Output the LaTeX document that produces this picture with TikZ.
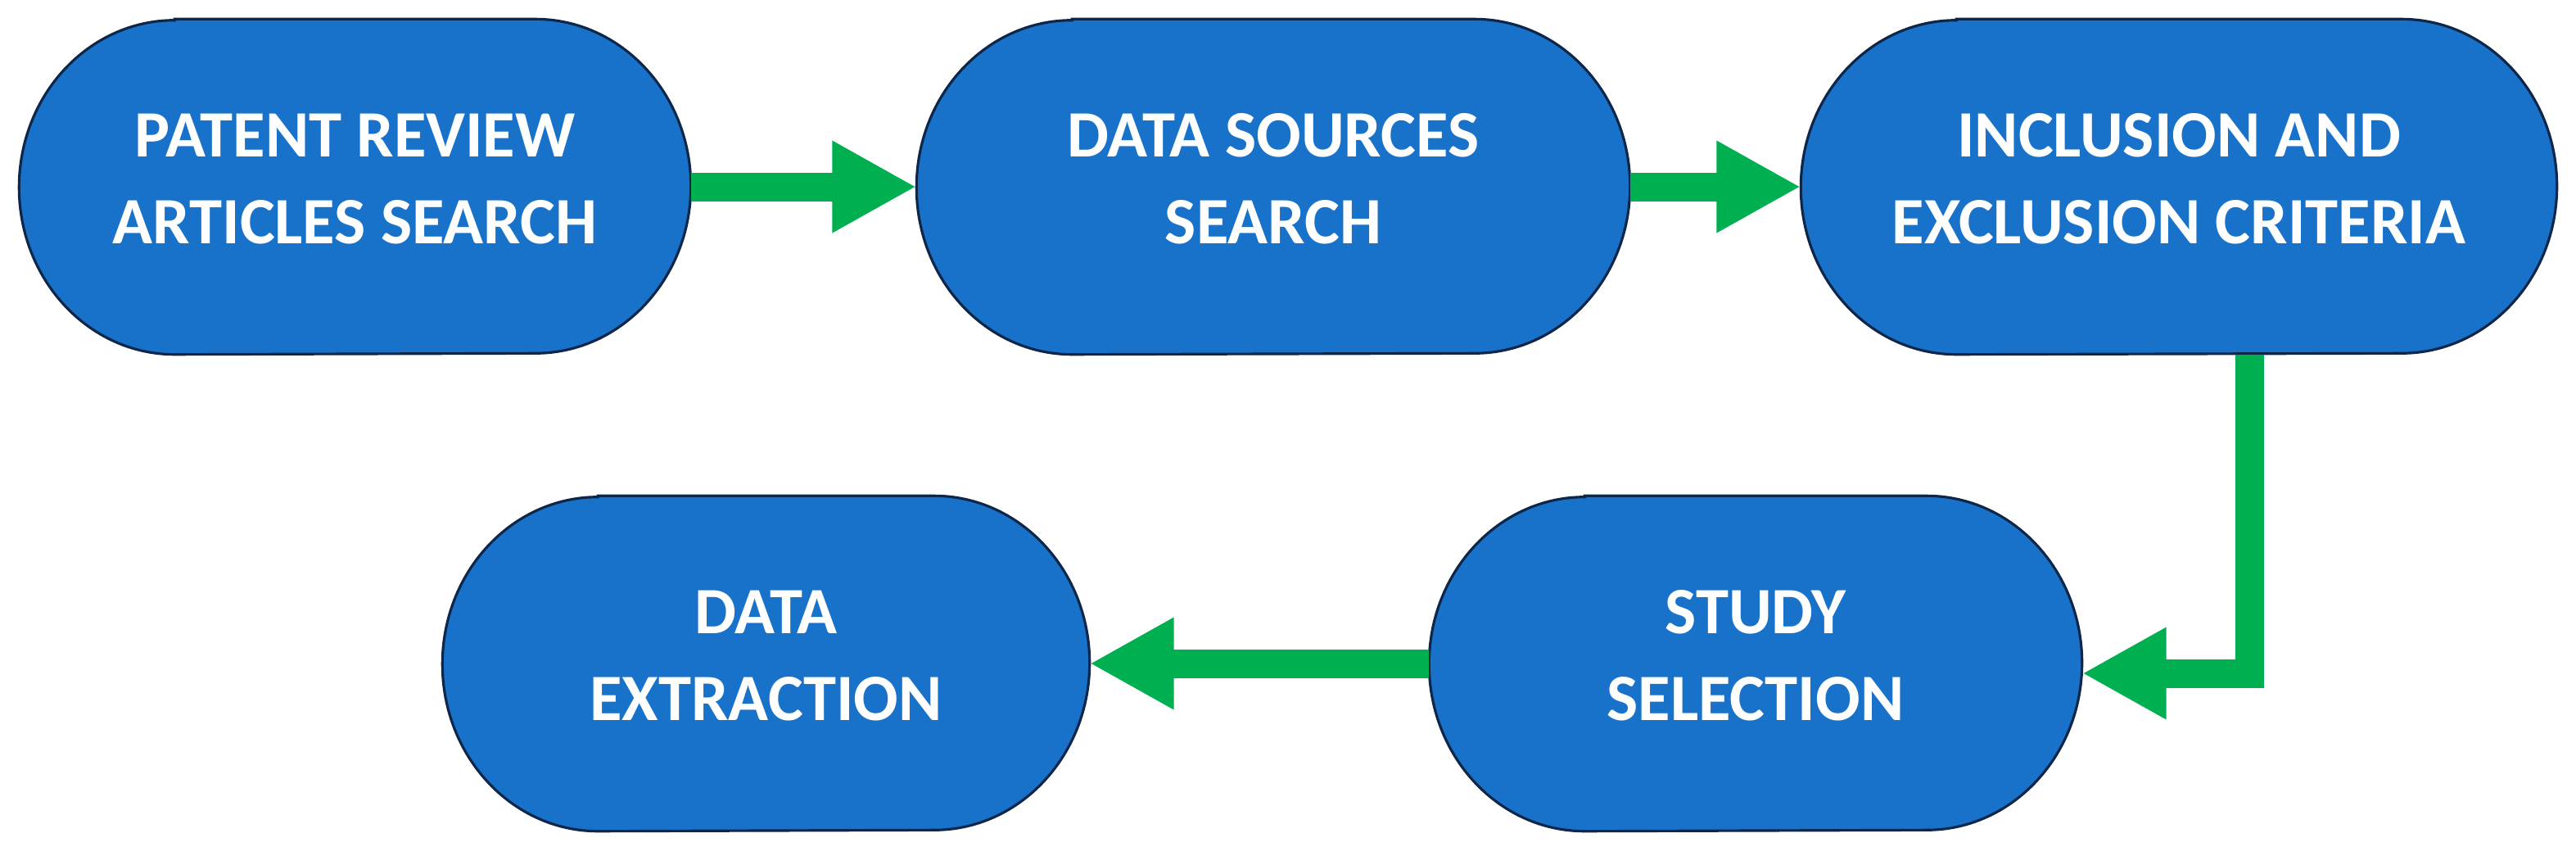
\documentclass[tikz,border=0pt]{standalone}
\usepackage{fontspec}
\setmainfont{Carlito}
\usetikzlibrary{arrows.meta,backgrounds}
\definecolor{boxblue}{RGB}{25,114,201}
\definecolor{boxedge}{RGB}{14,38,72}
\definecolor{arrgreen}{RGB}{0,176,80}
\def\stRX{1.9cm}
\def\stRY{2.04cm}
\newcommand\stadiumfor[1]{%
  \draw[boxline] ([xshift=\stRX]#1.north west) -- ([xshift=-\stRX]#1.north east)
    arc[start angle=90,end angle=0,x radius=\stRX,y radius=\stRY]
    arc[start angle=0,end angle=-90,x radius=\stRX,y radius=\stRY]
    -- ([xshift=\stRX]#1.south west)
    arc[start angle=270,end angle=180,x radius=\stRX,y radius=\stRY]
    arc[start angle=180,end angle=90,x radius=\stRX,y radius=\stRY] -- cycle;}
\newcommand\twolines[2]{\raisebox{0pt}[\height][\dimexpr\depth+0.1cm\relax]{%
  \begin{tabular}{@{}c@{}}#1\\#2\end{tabular}}}
\tikzset{
  stepbox/.style={rectangle, draw=none, inner sep=0pt, minimum height=4.08cm,
    text=white, font=\fontsize{23}{30.2}\selectfont\bfseries},
  boxline/.style={fill=boxblue, draw=boxedge, line width=0.9pt},
  flow/.style={draw=arrgreen, line width=0.35cm,
    -{Triangle[length=1.03cm,width=1.05cm]}, arrgreen}
}
\begin{document}
\begin{tikzpicture}
\useasboundingbox (0,0) rectangle (31.46,-10.33);
\node[stepbox, minimum width=8.19cm] (n1) at (4.335,-2.28) {\twolines{PATENT REVIEW}{ARTICLES SEARCH}};
\node[stepbox, minimum width=8.70cm] (n2) at (15.55,-2.28) {\twolines{DATA SOURCES}{SEARCH}};
\node[stepbox, minimum width=9.22cm] (n3) at (26.61,-2.28) {\twolines{INCLUSION AND}{EXCLUSION CRITERIA}};
\node[stepbox, minimum width=7.96cm] (n4) at (21.44,-8.10) {\twolines{STUDY}{SELECTION}};
\node[stepbox, minimum width=7.89cm] (n5) at (9.355,-8.10) {\twolines{DATA}{EXTRACTION}};
\begin{scope}[on background layer]
\stadiumfor{n1}
\stadiumfor{n2}
\stadiumfor{n3}
\stadiumfor{n4}
\stadiumfor{n5}
\end{scope}
\draw[flow] (n1.east) -- (n2.west);
\draw[flow] (n2.east) -- (n3.west);
\draw[flow] ([xshift=0.86cm]n3.south) |- ([yshift=-0.12cm]n4.east);
\draw[flow] (n4.west) -- (n5.east);
\end{tikzpicture}
\end{document}
